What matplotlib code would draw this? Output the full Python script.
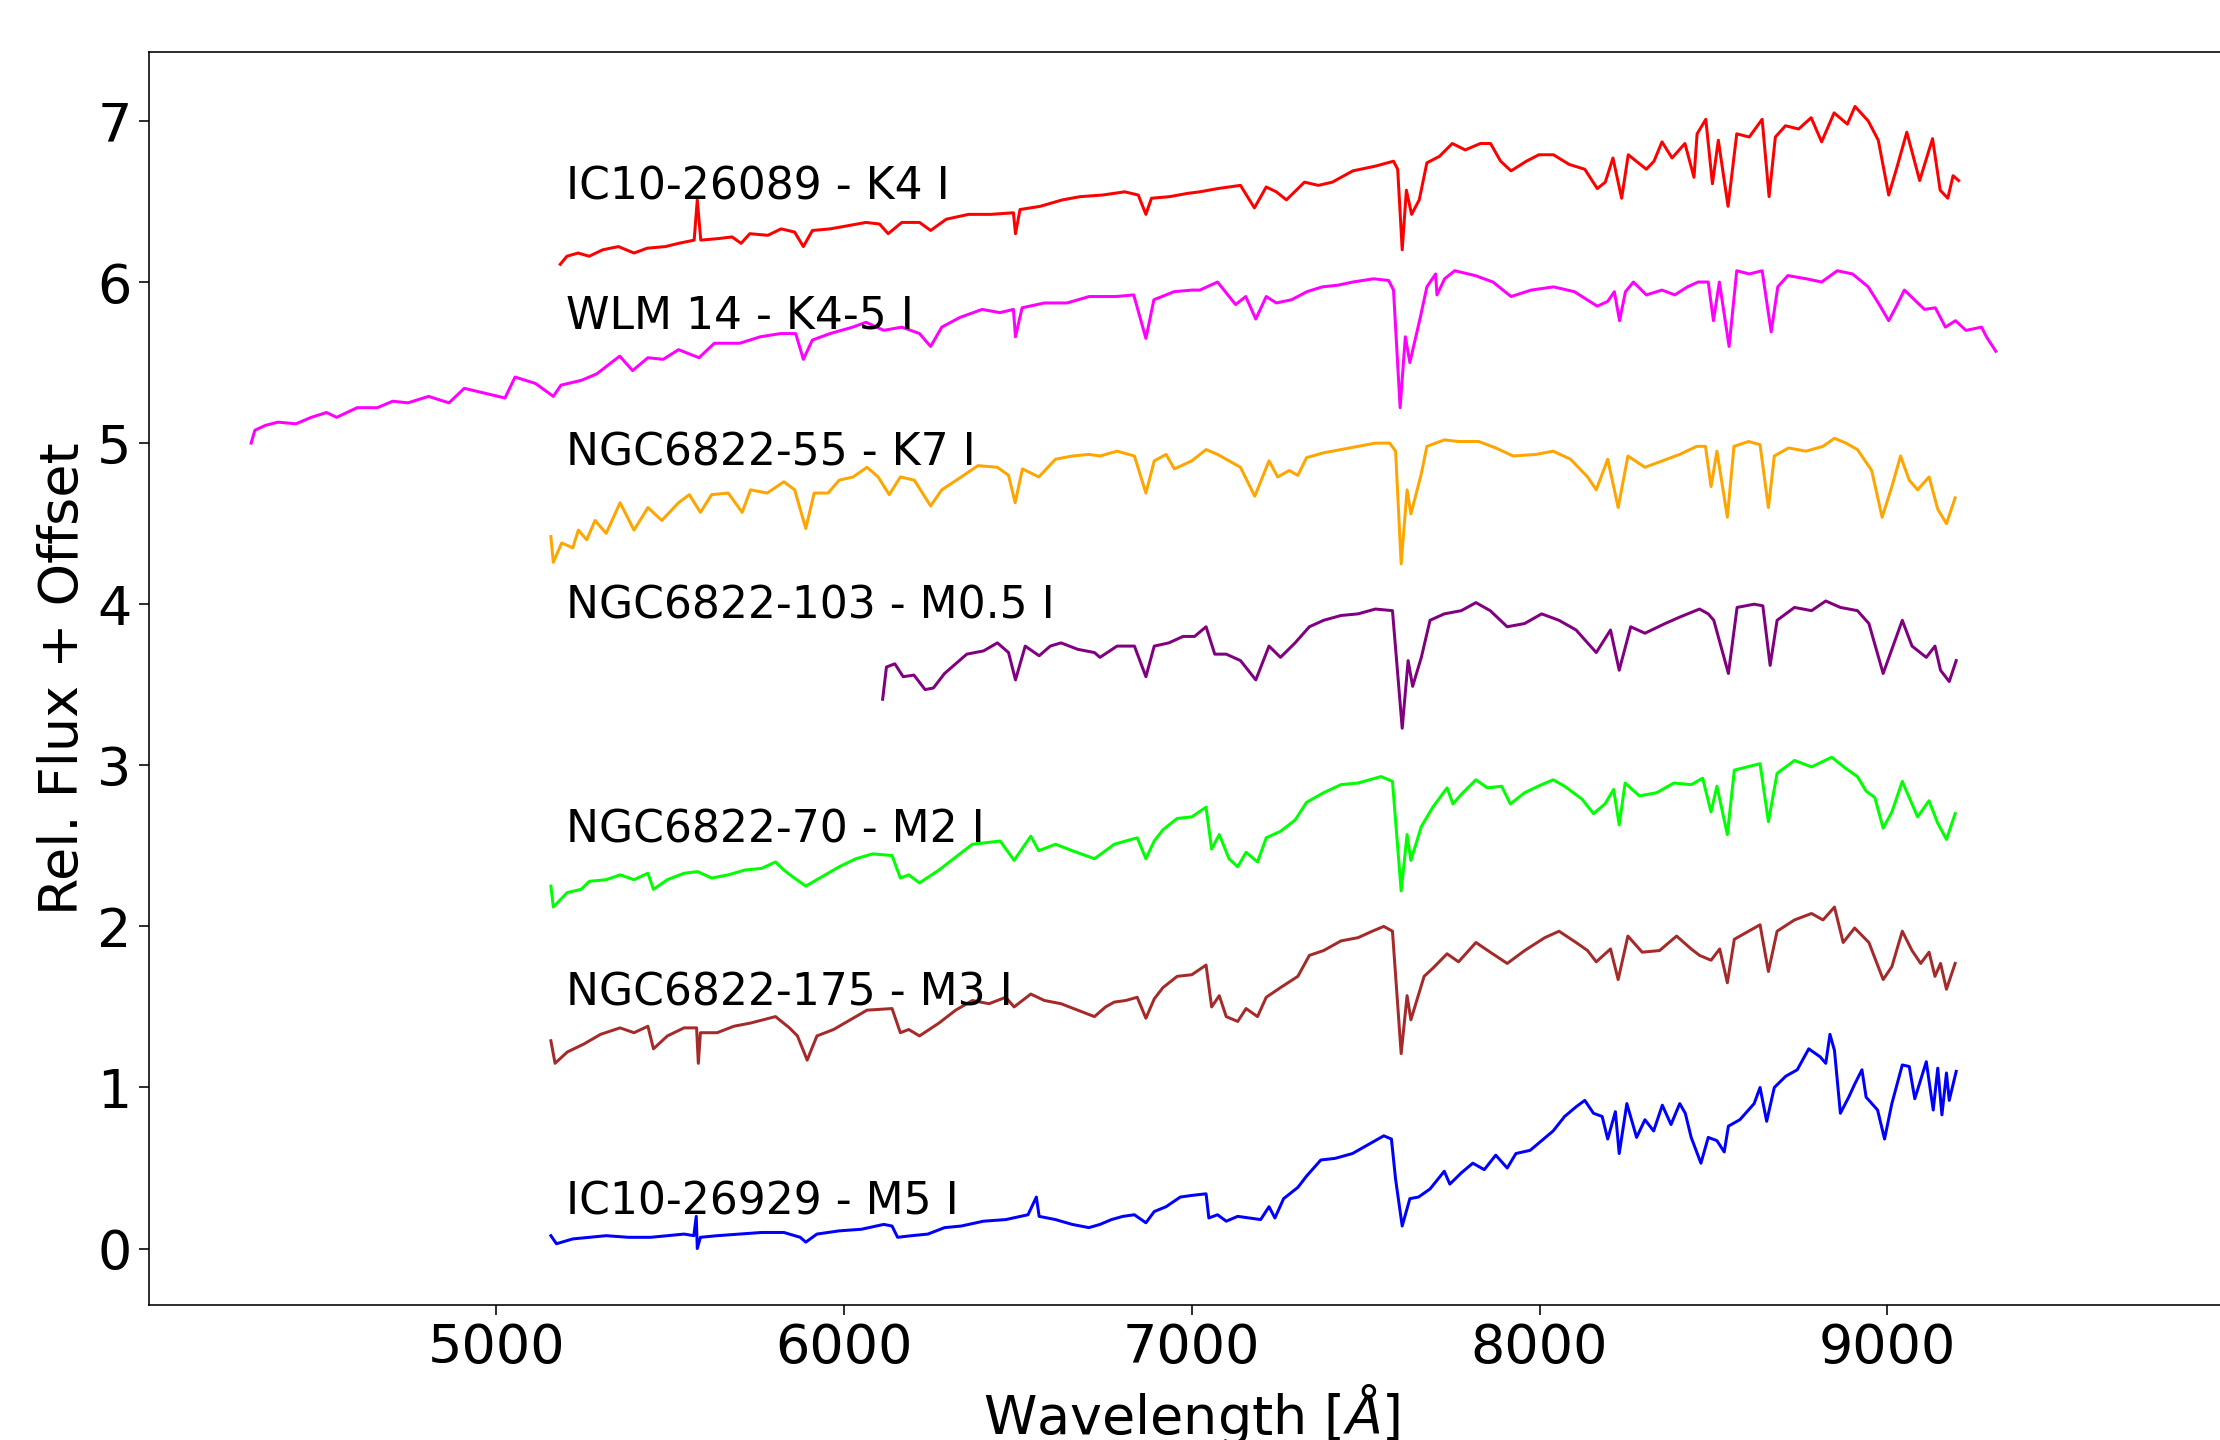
import matplotlib
matplotlib.use('Agg')
import matplotlib.pyplot as plt

## Spectra (wavelength in A, rel. flux + offset)
red_wav = [5184, 5203, 5235, 5267, 5306, 5351, 5396, 5434, 5486, 5524, 5569, 5578, 5588,
    5640, 5678, 5704, 5729, 5781, 5819, 5858, 5883, 5909, 5960, 6012, 6063, 6102, 6127,
    6166, 6217, 6249, 6294, 6358, 6422, 6487, 6493, 6506, 6564, 6628, 6679, 6743, 6807,
    6846, 6868, 6884, 6936, 6987, 7023, 7074, 7140, 7180, 7214, 7243, 7272, 7324, 7364,
    7404, 7463, 7529, 7580, 7592, 7605, 7617, 7632, 7654, 7676, 7712, 7749, 7786, 7830,
    7859, 7888, 7918, 7962, 7998, 8040, 8085, 8130, 8166, 8189, 8211, 8236, 8255, 8278,
    8307, 8329, 8352, 8381, 8418, 8444, 8453, 8478, 8497, 8514, 8542, 8567, 8603, 8640,
    8660, 8678, 8707, 8745, 8781, 8811, 8847, 8885, 8907, 8945, 8974, 9004, 9026, 9056,
    9093, 9130, 9152, 9174, 9189, 9205]
red_flx = [6.11, 6.16, 6.18, 6.16, 6.20, 6.22, 6.18, 6.21, 6.22, 6.24, 6.26, 6.51, 6.26,
    6.27, 6.28, 6.24, 6.30, 6.29, 6.33, 6.31, 6.22, 6.32, 6.33, 6.35, 6.37, 6.36, 6.30,
    6.37, 6.37, 6.32, 6.39, 6.42, 6.42, 6.43, 6.30, 6.45, 6.47, 6.51, 6.53, 6.54, 6.56,
    6.54, 6.42, 6.52, 6.53, 6.55, 6.56, 6.58, 6.60, 6.46, 6.59, 6.56, 6.51, 6.62, 6.60,
    6.62, 6.69, 6.72, 6.75, 6.70, 6.20, 6.57, 6.42, 6.51, 6.74, 6.78, 6.86, 6.82, 6.86,
    6.86, 6.75, 6.69, 6.75, 6.79, 6.79, 6.73, 6.70, 6.58, 6.62, 6.77, 6.52, 6.79, 6.75,
    6.70, 6.75, 6.87, 6.77, 6.86, 6.65, 6.92, 7.01, 6.61, 6.88, 6.47, 6.92, 6.90, 7.01,
    6.53, 6.90, 6.97, 6.95, 7.02, 6.87, 7.05, 6.98, 7.09, 7.00, 6.88, 6.54, 6.70, 6.93,
    6.63, 6.89, 6.57, 6.52, 6.66, 6.63]

mag_wav = [4295, 4306, 4336, 4372, 4424, 4468, 4512, 4541, 4600, 4658, 4702, 4746, 4805,
    4864, 4908, 4966, 5025, 5054, 5113, 5164, 5186, 5245, 5289, 5355, 5392, 5436, 5480,
    5524, 5583, 5627, 5700, 5759, 5817, 5861, 5883, 5909, 5960, 6025, 6063, 6114, 6166,
    6217, 6249, 6281, 6333, 6397, 6448, 6487, 6493, 6512, 6576, 6641, 6705, 6782, 6833,
    6868, 6891, 6949, 7000, 7023, 7074, 7126, 7155, 7184, 7214, 7243, 7287, 7331, 7375,
    7419, 7463, 7522, 7566, 7580, 7599, 7614, 7627, 7657, 7676, 7701, 7705, 7727, 7756,
    7815, 7866, 7918, 7976, 8040, 8100, 8166, 8196, 8215, 8230, 8247, 8270, 8307, 8352,
    8389, 8425, 8456, 8485, 8500, 8517, 8545, 8567, 8603, 8640, 8666, 8685, 8714, 8767,
    8811, 8856, 8900, 8945, 8974, 9004, 9026, 9049, 9078, 9107, 9138, 9167, 9196, 9226,
    9271, 9285, 9312]
mag_flx = [5.00, 5.08, 5.11, 5.13, 5.12, 5.16, 5.19, 5.16, 5.22, 5.22, 5.26, 5.25, 5.29,
    5.25, 5.34, 5.31, 5.28, 5.41, 5.37, 5.29, 5.36, 5.39, 5.43, 5.54, 5.45, 5.53, 5.52,
    5.58, 5.53, 5.62, 5.62, 5.66, 5.68, 5.68, 5.52, 5.64, 5.68, 5.72, 5.75, 5.70, 5.72,
    5.68, 5.60, 5.72, 5.78, 5.83, 5.81, 5.83, 5.66, 5.84, 5.87, 5.87, 5.91, 5.91, 5.92,
    5.65, 5.89, 5.94, 5.95, 5.95, 6.00, 5.86, 5.91, 5.77, 5.91, 5.87, 5.89, 5.94, 5.97,
    5.98, 6.00, 6.02, 6.01, 5.95, 5.22, 5.66, 5.50, 5.78, 5.97, 6.05, 5.92, 6.02, 6.07,
    6.04, 6.00, 5.91, 5.95, 5.97, 5.94, 5.85, 5.88, 5.94, 5.76, 5.94, 6.00, 5.92, 5.95,
    5.92, 5.97, 6.00, 6.00, 5.76, 6.00, 5.60, 6.07, 6.05, 6.07, 5.69, 5.97, 6.04, 6.02,
    6.00, 6.07, 6.05, 5.97, 5.87, 5.76, 5.85, 5.95, 5.89, 5.83, 5.84, 5.72, 5.76, 5.70,
    5.72, 5.66, 5.57]

org_wav = [5157, 5164, 5188, 5220, 5236, 5260, 5284, 5316, 5356, 5396, 5436, 5476, 5524,
    5555, 5587, 5619, 5667, 5707, 5731, 5779, 5827, 5858, 5890, 5914, 5954, 5986, 6026,
    6066, 6098, 6130, 6162, 6202, 6249, 6281, 6337, 6385, 6441, 6473, 6492, 6513, 6560,
    6608, 6656, 6704, 6736, 6785, 6835, 6868, 6892, 6926, 6950, 7000, 7041, 7074, 7107,
    7140, 7181, 7222, 7247, 7280, 7305, 7330, 7379, 7429, 7478, 7528, 7569, 7586, 7602,
    7619, 7630, 7660, 7676, 7726, 7767, 7825, 7874, 7924, 7990, 8039, 8089, 8138, 8163,
    8196, 8226, 8254, 8303, 8353, 8403, 8452, 8477, 8493, 8510, 8540, 8559, 8601, 8634,
    8658, 8675, 8716, 8766, 8815, 8848, 8881, 8914, 8955, 8985, 9013, 9038, 9063, 9087,
    9120, 9145, 9170, 9195]
org_flx = [4.42, 4.26, 4.38, 4.35, 4.46, 4.40, 4.52, 4.44, 4.63, 4.46, 4.60, 4.52, 4.63,
    4.68, 4.57, 4.68, 4.69, 4.57, 4.71, 4.69, 4.76, 4.71, 4.47, 4.69, 4.69, 4.77, 4.79,
    4.85, 4.79, 4.68, 4.79, 4.77, 4.61, 4.71, 4.79, 4.86, 4.85, 4.80, 4.63, 4.84, 4.79,
    4.90, 4.92, 4.93, 4.92, 4.95, 4.92, 4.69, 4.89, 4.93, 4.84, 4.89, 4.96, 4.93, 4.89,
    4.85, 4.67, 4.89, 4.79, 4.83, 4.80, 4.91, 4.94, 4.96, 4.98, 5.00, 5.00, 4.95, 4.25,
    4.71, 4.56, 4.81, 4.98, 5.02, 5.01, 5.01, 4.97, 4.92, 4.93, 4.95, 4.90, 4.79, 4.71,
    4.90, 4.60, 4.92, 4.85, 4.89, 4.93, 4.98, 4.98, 4.73, 4.95, 4.54, 4.98, 5.01, 4.99,
    4.60, 4.92, 4.97, 4.95, 4.98, 5.03, 5.00, 4.96, 4.83, 4.54, 4.73, 4.92, 4.77, 4.71,
    4.79, 4.59, 4.50, 4.66]

pur_wav = [6111, 6122, 6146, 6170, 6201, 6233, 6257, 6289, 6321, 6353, 6401, 6441, 6473,
    6493, 6521, 6561, 6593, 6624, 6672, 6720, 6736, 6785, 6835, 6868, 6892, 6934, 6975,
    7008, 7041, 7066, 7099, 7140, 7184, 7222, 7255, 7297, 7338, 7379, 7429, 7478, 7528,
    7577, 7605, 7622, 7635, 7660, 7685, 7726, 7775, 7817, 7858, 7907, 7957, 8006, 8056,
    8105, 8138, 8163, 8204, 8229, 8262, 8303, 8361, 8403, 8460, 8485, 8501, 8543, 8568,
    8617, 8642, 8663, 8683, 8733, 8782, 8823, 8865, 8914, 8947, 8988, 9013, 9043, 9071,
    9112, 9137, 9153, 9178, 9198]
pur_flx = [3.41, 3.61, 3.63, 3.55, 3.56, 3.47, 3.48, 3.57, 3.63, 3.69, 3.71, 3.76, 3.70,
    3.53, 3.74, 3.68, 3.74, 3.76, 3.72, 3.70, 3.67, 3.74, 3.74, 3.55, 3.74, 3.76, 3.80,
    3.80, 3.86, 3.69, 3.69, 3.65, 3.53, 3.74, 3.67, 3.76, 3.86, 3.90, 3.93, 3.94, 3.97,
    3.96, 3.23, 3.65, 3.49, 3.67, 3.90, 3.94, 3.96, 4.01, 3.96, 3.86, 3.88, 3.94, 3.90,
    3.84, 3.76, 3.70, 3.84, 3.59, 3.86, 3.82, 3.88, 3.92, 3.97, 3.94, 3.90, 3.57, 3.98,
    4.00, 3.99, 3.62, 3.90, 3.98, 3.96, 4.02, 3.98, 3.96, 3.88, 3.57, 3.72, 3.90, 3.74,
    3.67, 3.74, 3.59, 3.52, 3.65]

grn_wav = [5157, 5164, 5204, 5244, 5268, 5316, 5356, 5396, 5436, 5452, 5492, 5540, 5579,
    5619, 5667, 5715, 5763, 5803, 5827, 5851, 5890, 5938, 5986, 6034, 6082, 6138, 6162,
    6186, 6217, 6273, 6321, 6369, 6409, 6449, 6489, 6537, 6560, 6608, 6656, 6720, 6752,
    6777, 6810, 6843, 6868, 6892, 6917, 6958, 7000, 7041, 7057, 7079, 7107, 7132, 7156,
    7189, 7214, 7255, 7297, 7330, 7379, 7429, 7478, 7544, 7577, 7602, 7619, 7630, 7660,
    7693, 7734, 7751, 7775, 7817, 7850, 7891, 7916, 7957, 8006, 8039, 8072, 8122, 8155,
    8188, 8213, 8229, 8246, 8287, 8337, 8386, 8436, 8469, 8493, 8510, 8540, 8560, 8634,
    8658, 8683, 8733, 8782, 8840, 8881, 8914, 8939, 8964, 8988, 9013, 9043, 9071, 9087,
    9120, 9145, 9170, 9195]
grn_flx = [2.25, 2.12, 2.21, 2.23, 2.28, 2.29, 2.32, 2.29, 2.33, 2.23, 2.29, 2.33, 2.34,
    2.30, 2.32, 2.35, 2.36, 2.40, 2.35, 2.31, 2.25, 2.31, 2.37, 2.42, 2.45, 2.44, 2.30,
    2.32, 2.27, 2.35, 2.43, 2.51, 2.52, 2.53, 2.41, 2.56, 2.47, 2.51, 2.47, 2.42, 2.47,
    2.51, 2.53, 2.55, 2.42, 2.53, 2.60, 2.67, 2.68, 2.74, 2.48, 2.57, 2.42, 2.37, 2.46,
    2.40, 2.55, 2.59, 2.66, 2.77, 2.83, 2.88, 2.89, 2.93, 2.90, 2.22, 2.57, 2.41, 2.62,
    2.74, 2.86, 2.76, 2.82, 2.91, 2.86, 2.87, 2.76, 2.83, 2.88, 2.91, 2.87, 2.79, 2.70,
    2.76, 2.85, 2.63, 2.89, 2.81, 2.83, 2.89, 2.88, 2.92, 2.71, 2.87, 2.57, 2.97, 3.01,
    2.65, 2.95, 3.03, 2.99, 3.05, 2.98, 2.93, 2.84, 2.80, 2.61, 2.71, 2.90, 2.76, 2.68,
    2.78, 2.64, 2.54, 2.70]

brn_wav = [5157, 5169, 5204, 5252, 5300, 5356, 5396, 5436, 5452, 5492, 5540, 5576, 5581,
    5587, 5635, 5683, 5731, 5803, 5843, 5866, 5894, 5922, 5970, 6018, 6066, 6138, 6162,
    6186, 6217, 6273, 6321, 6369, 6417, 6465, 6489, 6537, 6576, 6624, 6672, 6720, 6752,
    6777, 6810, 6843, 6868, 6892, 6917, 6958, 7000, 7041, 7057, 7079, 7099, 7132, 7156,
    7189, 7214, 7255, 7305, 7338, 7379, 7429, 7478, 7519, 7552, 7577, 7602, 7619, 7630,
    7668, 7693, 7734, 7767, 7817, 7858, 7907, 7957, 8015, 8056, 8105, 8138, 8163, 8204,
    8226, 8254, 8295, 8345, 8394, 8436, 8460, 8493, 8518, 8540, 8560, 8601, 8634, 8658,
    8683, 8733, 8782, 8815, 8848, 8873, 8906, 8947, 8988, 9013, 9043, 9071, 9096, 9120,
    9137, 9153, 9170, 9195]
brn_flx = [1.29, 1.15, 1.22, 1.27, 1.33, 1.37, 1.34, 1.38, 1.24, 1.32, 1.37, 1.37, 1.15,
    1.34, 1.34, 1.38, 1.40, 1.44, 1.37, 1.32, 1.17, 1.32, 1.36, 1.42, 1.48, 1.49, 1.34,
    1.36, 1.32, 1.40, 1.48, 1.54, 1.52, 1.56, 1.50, 1.58, 1.54, 1.52, 1.48, 1.44, 1.50,
    1.53, 1.54, 1.56, 1.43, 1.55, 1.62, 1.69, 1.70, 1.76, 1.50, 1.57, 1.44, 1.41, 1.49,
    1.44, 1.56, 1.62, 1.69, 1.82, 1.85, 1.91, 1.93, 1.97, 2.00, 1.97, 1.21, 1.57, 1.42,
    1.69, 1.74, 1.83, 1.78, 1.90, 1.84, 1.77, 1.85, 1.93, 1.97, 1.90, 1.85, 1.78, 1.86,
    1.67, 1.94, 1.84, 1.85, 1.94, 1.86, 1.82, 1.79, 1.86, 1.65, 1.92, 1.97, 2.01, 1.72,
    1.97, 2.04, 2.08, 2.04, 2.12, 1.90, 1.99, 1.90, 1.67, 1.75, 1.97, 1.85, 1.77, 1.84,
    1.69, 1.77, 1.61, 1.77]

blu_wav = [5157, 5173, 5220, 5268, 5316, 5380, 5444, 5492, 5540, 5568, 5575, 5578, 5587,
    5635, 5699, 5763, 5827, 5874, 5890, 5922, 5986, 6050, 6114, 6138, 6154, 6194, 6241,
    6289, 6337, 6401, 6465, 6529, 6553, 6561, 6608, 6656, 6704, 6736, 6769, 6802, 6835,
    6868, 6892, 6926, 6967, 7000, 7041, 7049, 7074, 7099, 7132, 7165, 7198, 7222, 7239,
    7264, 7305, 7330, 7371, 7412, 7462, 7511, 7552, 7574, 7586, 7605, 7627, 7652, 7685,
    7726, 7742, 7775, 7808, 7841, 7874, 7907, 7932, 7973, 8006, 8039, 8072, 8105, 8130,
    8155, 8180, 8196, 8218, 8229, 8251, 8279, 8303, 8328, 8353, 8378, 8403, 8419, 8436,
    8464, 8485, 8510, 8531, 8543, 8576, 8617, 8634, 8653, 8675, 8708, 8741, 8774, 8807,
    8823, 8835, 8848, 8865, 8889, 8906, 8927, 8939, 8972, 8992, 9013, 9043, 9063, 9079,
    9112, 9132, 9145, 9157, 9170, 9178, 9198]
blu_flx = [0.08, 0.03, 0.06, 0.07, 0.08, 0.07, 0.07, 0.08, 0.09, 0.08, 0.20, 0.00, 0.07,
    0.08, 0.09, 0.10, 0.10, 0.07, 0.04, 0.09, 0.11, 0.12, 0.15, 0.14, 0.07, 0.08, 0.09,
    0.13, 0.14, 0.17, 0.18, 0.21, 0.32, 0.20, 0.18, 0.15, 0.13, 0.15, 0.18, 0.20, 0.21,
    0.16, 0.23, 0.26, 0.32, 0.33, 0.34, 0.19, 0.21, 0.17, 0.20, 0.19, 0.18, 0.26, 0.19,
    0.31, 0.38, 0.45, 0.55, 0.56, 0.59, 0.65, 0.70, 0.68, 0.43, 0.14, 0.31, 0.32, 0.37,
    0.48, 0.40, 0.47, 0.53, 0.49, 0.58, 0.50, 0.59, 0.61, 0.67, 0.73, 0.82, 0.88, 0.92,
    0.84, 0.82, 0.68, 0.85, 0.59, 0.90, 0.69, 0.80, 0.73, 0.89, 0.77, 0.90, 0.84, 0.69,
    0.53, 0.69, 0.67, 0.60, 0.76, 0.80, 0.90, 1.00, 0.79, 1.00, 1.07, 1.11, 1.24, 1.19,
    1.15, 1.33, 1.23, 0.84, 0.94, 1.02, 1.11, 0.94, 0.86, 0.68, 0.90, 1.14, 1.13, 0.93,
    1.16, 0.86, 1.12, 0.83, 1.09, 0.92, 1.10]

spectra = [(red_wav, red_flx, 'red'), (mag_wav, mag_flx, 'magenta'),
    (org_wav, org_flx, 'orange'), (pur_wav, pur_flx, 'purple'),
    (grn_wav, grn_flx, 'lime'), (brn_wav, brn_flx, 'brown'),
    (blu_wav, blu_flx, 'blue')]

names = ['IC10-26089 - K4 I', 'WLM 14 - K4-5 I', 'NGC6822-55 - K7 I',
    'NGC6822-103 - M0.5 I', 'NGC6822-70 - M2 I', 'NGC6822-175 - M3 I',
    'IC10-26929 - M5 I']
name_y = [6.51, 5.71, 4.86, 3.91, 2.52, 1.51, 0.21]

plt.rcParams['font.size'] = 27
fig = plt.figure(figsize=(2220/144, 1440/144), dpi=144)
ax = fig.add_axes([0.0669, 0.094, 0.9399, 0.8699])

for w, f, c in spectra:
    ax.plot(w, f, color=c, lw=1.5)
for n, y in zip(names, name_y):
    ax.text(5200, y, n, fontsize=22)

ax.set_xlim([4000, 10000])
ax.set_ylim([-0.348, 7.428])
ax.set_xticks([5000, 6000, 7000, 8000, 9000])
ax.tick_params(length=5)
ax.set_xlabel(r'Wavelength [$\AA$]')
ax.set_ylabel('Rel. Flux + Offset')
plt.savefig('out.png', dpi=144)
